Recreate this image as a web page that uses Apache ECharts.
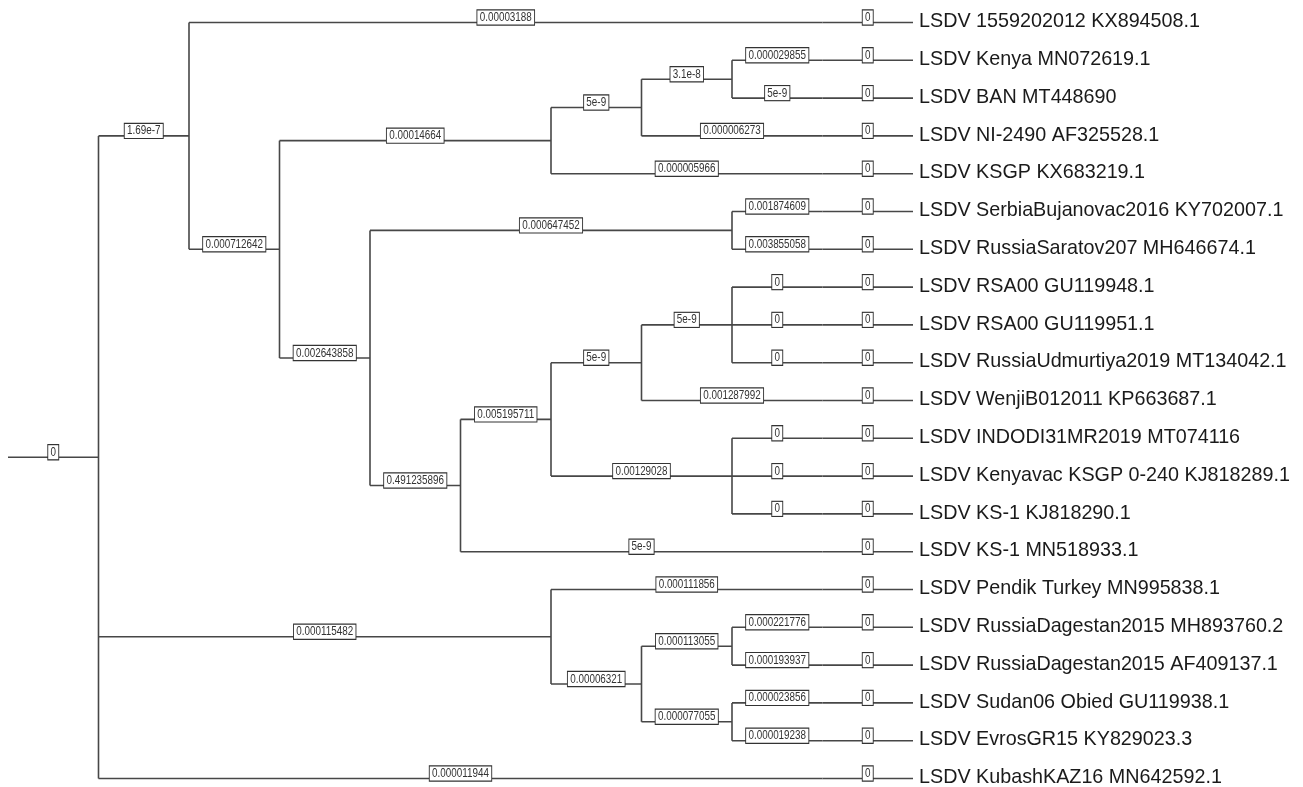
<!DOCTYPE html>
<html>
<head>
<meta charset="utf-8">
<script src="https://cdn.jsdelivr.net/npm/echarts@6/dist/echarts.min.js"></script>
<style>
  html, body { margin: 0; padding: 0; background: #fff; }
  #tree { width: 1303px; height: 787px; }
</style>
</head>
<body>
<div id="tree"></div>
<script>
// leaf names, top to bottom
var leafNames = [
  'LSDV 1559202012 KX894508.1',
  'LSDV Kenya MN072619.1',
  'LSDV BAN MT448690',
  'LSDV NI-2490 AF325528.1',
  'LSDV KSGP KX683219.1',
  'LSDV SerbiaBujanovac2016 KY702007.1',
  'LSDV RussiaSaratov207 MH646674.1',
  'LSDV RSA00 GU119948.1',
  'LSDV RSA00 GU119951.1',
  'LSDV RussiaUdmurtiya2019 MT134042.1',
  'LSDV WenjiB012011 KP663687.1',
  'LSDV INDODI31MR2019 MT074116',
  'LSDV Kenyavac KSGP 0-240 KJ818289.1',
  'LSDV KS-1 KJ818290.1',
  'LSDV KS-1 MN518933.1',
  'LSDV Pendik Turkey MN995838.1',
  'LSDV RussiaDagestan2015 MH893760.2',
  'LSDV RussiaDagestan2015 AF409137.1',
  'LSDV Sudan06 Obied GU119938.1',
  'LSDV EvrosGR15 KY829023.3',
  'LSDV KubashKAZ16 MN642592.1'
];

// branch label of each leaf's terminal stub
var leafTipLabels = leafNames.map(function () { return '0'; });

// [branch length label, children | leaf index]
var tree = ['0', [
  ['1.69e-7', [
    ['0.00003188', 0],
    ['0.000712642', [
      ['0.00014664', [
        ['5e-9', [
          ['3.1e-8', [['0.000029855', 1], ['5e-9', 2]]],
          ['0.000006273', 3]
        ]],
        ['0.000005966', 4]
      ]],
      ['0.002643858', [
        ['0.000647452', [['0.001874609', 5], ['0.003855058', 6]]],
        ['0.491235896', [
          ['0.005195711', [
            ['5e-9', [
              ['5e-9', [['0', 7], ['0', 8], ['0', 9]]],
              ['0.001287992', 10]
            ]],
            ['0.00129028', [['0', 11], ['0', 12], ['0', 13]]]
          ]],
          ['5e-9', 14]
        ]]
      ]]
    ]]
  ]],
  ['0.000115482', [
    ['0.000111856', 15],
    ['0.00006321', [
      ['0.000113055', [['0.000221776', 16], ['0.000193937', 17]]],
      ['0.000077055', [['0.000023856', 18], ['0.000019238', 19]]]
    ]]
  ]],
  ['0.000011944', 20]
]];

// layout: leaves aligned at level 9, inner nodes at 9 - height
var LEAF_LEVEL = 9;
var segs = [], segLabels = [], verts = [];

function isLeaf(n) { return typeof n[1] === 'number'; }
function height(n) {
  if (isLeaf(n)) return 0;
  return 1 + Math.max.apply(null, n[1].map(height));
}
function place(n, px) {
  var x, y;
  if (isLeaf(n)) {
    x = LEAF_LEVEL;
    y = n[1];
  } else {
    x = LEAF_LEVEL - height(n);
    var ys = n[1].map(function (c) { return place(c, x); });
    y = (ys[0] + ys[ys.length - 1]) / 2;
    verts.push([x, ys[0], ys[ys.length - 1]]);
  }
  segs.push([px, x, y]);
  segLabels.push(n[0]);
  return y;
}
place(tree, 0);

leafNames.forEach(function (name, i) {
  segs.push([LEAF_LEVEL, LEAF_LEVEL + 1, i]);
  segLabels.push(leafTipLabels[i]);
});

var LINE = '#474747';

var option = {
  animation: false,
  grid: { left: 8, right: 390, top: 22.5, bottom: 8.5 },
  xAxis: { type: 'value', min: 0, max: 10, show: false },
  yAxis: { type: 'value', min: 0, max: leafNames.length - 1, inverse: true, show: false },
  series: [
    {
      // horizontal branches
      type: 'custom',
      data: segs,
      z: 1,
      renderItem: function (params, api) {
        var a = api.coord([api.value(0), api.value(2)]);
        var b = api.coord([api.value(1), api.value(2)]);
        return {
          type: 'line',
          shape: { x1: a[0], y1: a[1], x2: b[0], y2: b[1] },
          style: { stroke: LINE, lineWidth: 1.6 }
        };
      }
    },
    {
      // vertical connectors
      type: 'custom',
      data: verts,
      z: 1,
      renderItem: function (params, api) {
        var a = api.coord([api.value(0), api.value(1)]);
        var b = api.coord([api.value(0), api.value(2)]);
        return {
          type: 'line',
          shape: { x1: a[0], y1: a[1], x2: b[0], y2: b[1] },
          style: { stroke: LINE, lineWidth: 1.6 }
        };
      }
    },
    {
      // branch length boxes
      type: 'custom',
      data: segs,
      z: 3,
      renderItem: function (params, api) {
        var a = api.coord([(api.value(0) + api.value(1)) / 2, api.value(2)]);
        return {
          type: 'text',
          x: a[0],
          y: a[1] - 5,
          scaleX: 0.76,
          style: {
            text: segLabels[params.dataIndex],
            font: '13px "Liberation Sans", Arial, sans-serif',
            fill: '#333',
            align: 'center',
            verticalAlign: 'middle',
            backgroundColor: '#fff',
            borderColor: '#333',
            borderWidth: 1.2,
            padding: [1, 3, 0, 3]
          }
        };
      }
    },
    {
      // leaf names
      type: 'custom',
      data: leafNames.map(function (n, i) { return [LEAF_LEVEL + 1, i]; }),
      z: 3,
      renderItem: function (params, api) {
        var a = api.coord([api.value(0), api.value(1)]);
        return {
          type: 'text',
          x: a[0] + 6,
          y: a[1] - 1,
          scaleX: 0.94,
          style: {
            text: leafNames[params.dataIndex],
            font: '21px "Liberation Sans", Arial, sans-serif',
            fill: '#1a1a1a',
            align: 'left',
            verticalAlign: 'middle'
          }
        };
      }
    }
  ]
};

var chart = echarts.init(document.getElementById('tree'));
chart.setOption(option);
</script>
</body>
</html>
